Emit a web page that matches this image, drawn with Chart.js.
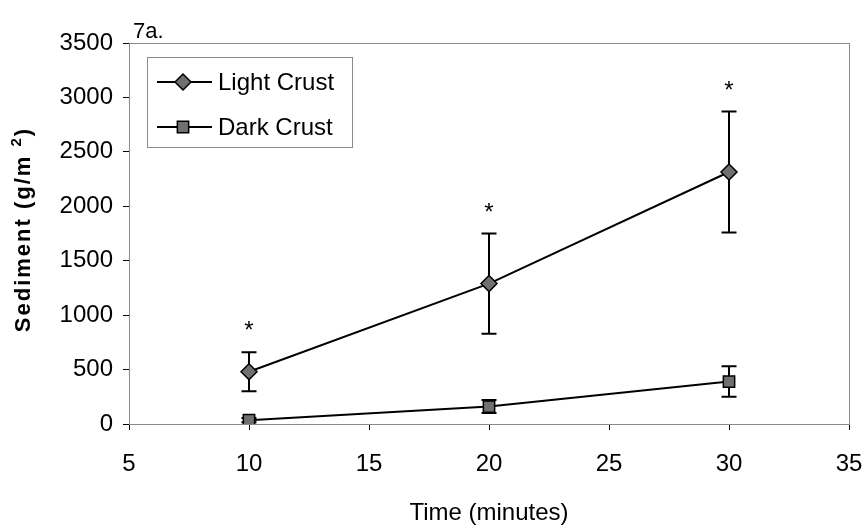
<!DOCTYPE html>
<html>
<head>
<meta charset="utf-8">
<script src="https://cdn.jsdelivr.net/npm/chart.js@4/dist/chart.umd.min.js"></script>
<style>
  html, body { margin: 0; padding: 0; background: #fff; }
  #wrap { width: 868px; height: 528px; }
</style>
</head>
<body>
<div id="wrap"><canvas id="sediment"></canvas></div>
<script>
// values
const timeMinutes = [10, 20, 30];
const lightCrust = [480, 1290, 2315];
const lightCrustErr = [180, 460, 555];
const darkCrust = [35, 160, 390];
const darkCrustErr = [20, 60, 140];
const significant = [true, true, true];

const xTicks = [5, 10, 15, 20, 25, 30, 35];
const yTicks = [0, 500, 1000, 1500, 2000, 2500, 3000, 3500];

const seriesNames = ['Light Crust', 'Dark Crust'];
const panelLabel = '7a.';

const FONT = 'Arial, "Liberation Sans", sans-serif';

// error bars + asterisks, drawn from the scales
const errorBars = {
  id: 'errorBars',
  beforeDatasetsDraw(chart) {
    const { ctx, chartArea, scales } = chart;
    // plot frame
    ctx.save();
    ctx.strokeStyle = '#8a8a8a';
    ctx.lineWidth = 1;
    ctx.strokeRect(chartArea.left + 0.5, chartArea.top + 0.5,
      chartArea.right - chartArea.left, chartArea.bottom - chartArea.top);
    ctx.restore();

    const errs = [lightCrustErr, darkCrustErr];
    ctx.save();
    ctx.strokeStyle = '#000';
    ctx.lineWidth = 2;
    chart.data.datasets.forEach((ds, i) => {
      ds.data.forEach((p, j) => {
        const x = scales.x.getPixelForValue(p.x);
        const yTop = scales.y.getPixelForValue(p.y + errs[i][j]);
        const yBot = scales.y.getPixelForValue(p.y - errs[i][j]);
        ctx.beginPath();
        ctx.moveTo(x, yTop); ctx.lineTo(x, yBot);
        ctx.moveTo(x - 7.5, yTop); ctx.lineTo(x + 7.5, yTop);
        ctx.moveTo(x - 7.5, yBot); ctx.lineTo(x + 7.5, yBot);
        ctx.stroke();
      });
    });
    ctx.restore();
  },
  afterDraw(chart) {
    const { ctx, chartArea, scales } = chart;
    ctx.save();
    ctx.fillStyle = '#000';
    ctx.font = '24px ' + FONT;
    ctx.textAlign = 'center';
    ctx.textBaseline = 'alphabetic';
    timeMinutes.forEach((t, j) => {
      if (!significant[j]) return;
      const x = scales.x.getPixelForValue(t);
      const y = scales.y.getPixelForValue(lightCrust[j] + lightCrustErr[j]);
      ctx.fillText('*', x, y - 14);
    });

    // panel label
    ctx.textAlign = 'left';
    ctx.font = '22px ' + FONT;
    ctx.fillText(panelLabel, chartArea.left + 4, chartArea.top - 5);

    // y axis title with raised 2
    ctx.save();
    ctx.translate(30, (chartArea.top + chartArea.bottom) / 2 - 4);
    ctx.rotate(-Math.PI / 2);
    ctx.letterSpacing = '2px';
    const main = 'Sediment (g/m ';
    ctx.font = 'bold 22px ' + FONT;
    const w1 = ctx.measureText(main).width;
    ctx.font = 'bold 15px ' + FONT;
    const w2 = ctx.measureText('2').width;
    ctx.font = 'bold 22px ' + FONT;
    const w3 = ctx.measureText(')').width;
    let x0 = -(w1 + w2 + w3) / 2;
    ctx.textAlign = 'left';
    ctx.fillText(main, x0, 0);
    ctx.font = 'bold 15px ' + FONT;
    ctx.fillText('2', x0 + w1, -9);
    ctx.font = 'bold 22px ' + FONT;
    ctx.fillText(')', x0 + w1 + w2, 0);
    ctx.restore();

    // legend box inside the plot
    const lx = chartArea.left + 18, ly = chartArea.top + 14;
    ctx.strokeStyle = '#8a8a8a';
    ctx.lineWidth = 1;
    ctx.strokeRect(lx + 0.5, ly + 0.5, 205, 90);
    chart.data.datasets.forEach((ds, i) => {
      const ry = ly + 25 + i * 45;
      ctx.strokeStyle = '#000';
      ctx.lineWidth = 2;
      ctx.beginPath();
      ctx.moveTo(lx + 10, ry); ctx.lineTo(lx + 65, ry);
      ctx.stroke();
      Chart.helpers.drawPoint(ctx, {
        pointStyle: ds.pointStyle, radius: ds.pointRadius, borderWidth: 1.5
      }, lx + 36, ry);
      ctx.fillStyle = '#000';
      ctx.font = '24px ' + FONT;
      ctx.textBaseline = 'middle';
      ctx.fillText(ds.label, lx + 71, ry + 1);
    });
    ctx.restore();
  }
};

// drawPoint needs fill/stroke set on ctx beforehand
const origDrawPoint = Chart.helpers.drawPoint;
Chart.helpers.drawPoint = function(ctx, opts, x, y) {
  ctx.save();
  ctx.fillStyle = '#707070';
  ctx.strokeStyle = '#000';
  ctx.lineWidth = opts.borderWidth || 1.5;
  origDrawPoint(ctx, opts, x, y);
  ctx.restore();
};

const makeSeries = (label, values, style) => ({
  label: label,
  data: timeMinutes.map((t, i) => ({ x: t, y: values[i] })),
  borderColor: '#000',
  borderWidth: 2,
  backgroundColor: '#707070',
  pointStyle: style,
  pointRadius: 8,
  pointBorderColor: '#000',
  pointBackgroundColor: '#707070',
  pointBorderWidth: 1.5,
  tension: 0,
  showLine: true
});

new Chart(document.getElementById('sediment'), {
  type: 'scatter',
  data: {
    datasets: [
      makeSeries(seriesNames[0], lightCrust, 'rectRot'),
      makeSeries(seriesNames[1], darkCrust, 'rect')
    ]
  },
  options: {
    responsive: true,
    maintainAspectRatio: false,
    animation: false,
    layout: { padding: { top: 43, right: 19, left: 0, bottom: 0 } },
    plugins: {
      legend: { display: false },
      tooltip: { enabled: false }
    },
    scales: {
      x: {
        type: 'linear',
        min: 5, max: 35,
        afterBuildTicks: s => { s.ticks = xTicks.map(v => ({ value: v })); },
        afterFit: s => { s.height = 104; s.paddingLeft = 0; s.paddingRight = 0; },
        grid: { drawOnChartArea: false, color: '#000', tickLength: 6 },
        border: { color: '#333', width: 1 },
        ticks: {
          color: '#000', font: { family: FONT, size: 24 }, padding: 20, maxRotation: 0,
          callback: v => String(v)
        },
        title: {
          display: true, text: 'Time (minutes)', color: '#000',
          font: { family: FONT, size: 24 }, padding: { top: 0, bottom: 0 }
        }
      },
      y: {
        min: 0, max: 3500,
        afterBuildTicks: s => { s.ticks = yTicks.map(v => ({ value: v })); },
        afterFit: s => { s.width = 129; s.paddingTop = 0; s.paddingBottom = 0; },
        grid: { drawOnChartArea: false, color: '#000', tickLength: 6 },
        border: { color: '#333', width: 1 },
        ticks: {
          color: '#000', font: { family: FONT, size: 24 }, padding: 10,
          callback: v => String(v)
        }
      }
    }
  },
  plugins: [errorBars]
});
</script>
</body>
</html>
